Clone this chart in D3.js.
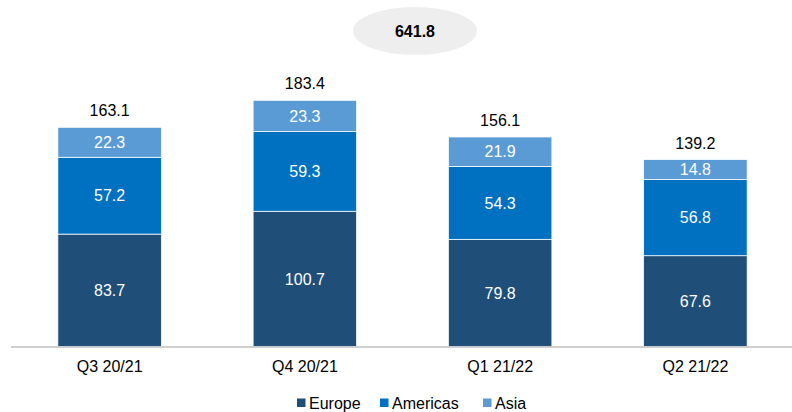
<!DOCTYPE html>
<html><head><meta charset="utf-8">
<script src="https://cdn.jsdelivr.net/npm/d3@7"></script>
<style>body{margin:0;background:#fff}svg{display:block;font-family:"Liberation Sans",Arial,sans-serif}</style>
</head><body>
<svg id="c" width="792" height="412"></svg>
<script>
const categories = ["Q3 20/21","Q4 20/21","Q1 21/22","Q2 21/22"];
const seriesNames = ["Europe","Americas","Asia"];
const europe = [83.7,100.7,79.8,67.6];
const americas = [57.2,59.3,54.3,56.8];
const asia = [22.3,23.3,21.9,14.8];
const totals = [163.1,183.4,156.1,139.2];
const grandTotal = "641.8";
const colors = ["#1F4E79","#0070C0","#5B9BD5"];

const svg = d3.select("#c");
const x = d3.scaleBand().domain(categories).range([11,794]).paddingInner(0.47).paddingOuter(0.24);
const y = d3.scaleLinear().domain([0,200]).range([346.5,77.9]);

const rows = categories.map((c,i)=>({cat:c,Europe:europe[i],Americas:americas[i],Asia:asia[i]}));
const stack = d3.stack().keys(seriesNames)(rows);

const g = svg.append("g");
stack.forEach((layer,li)=>{
  layer.forEach(d=>{
    g.append("rect").attr("x",x(d.data.cat)).attr("width",x.bandwidth())
      .attr("y",y(d[1])).attr("height",y(d[0])-y(d[1]))
      .attr("fill",colors[li]).attr("stroke","#fff").attr("stroke-width",0.75);
    g.append("text").attr("x",x(d.data.cat)+x.bandwidth()/2).attr("y",(y(d[0])+y(d[1]))/2)
      .attr("dy","0.36em").attr("text-anchor","middle").attr("fill","#fff").attr("font-size",16)
      .text(d.data[layer.key].toFixed(1));
  });
});
categories.forEach((c,i)=>{
  g.append("text").attr("x",x(c)+x.bandwidth()/2).attr("y",y(totals[i])-11)
   .attr("text-anchor","middle").attr("font-size",16).attr("fill","#000").text(totals[i].toFixed(1));
});

// axis
const ax = svg.append("g").attr("transform",`translate(0,${y(0)+0.5})`).call(d3.axisBottom(x).tickSize(0).tickPadding(14));
ax.select(".domain").attr("stroke","#bfbfbf").attr("stroke-width",1.5).attr("d","M11,0H792");
ax.selectAll("text").attr("font-size",16).attr("fill","#000").attr("font-family","Liberation Sans, Arial, sans-serif");

// grand total ellipse
svg.append("ellipse").attr("cx",415).attr("cy",31).attr("rx",62).attr("ry",24).attr("fill","#eeeeee");
svg.append("text").attr("x",415).attr("y",31).attr("dy","0.36em").attr("text-anchor","middle")
  .attr("font-size",16).attr("font-weight","bold").text(grandTotal);

// legend
const legX = [297,380,483];
const leg = svg.append("g");
seriesNames.forEach((n,i)=>{
  leg.append("rect").attr("x",legX[i]).attr("y",398.5).attr("width",8.5).attr("height",8.5).attr("fill",colors[i]);
  leg.append("text").attr("x",legX[i]+12).attr("y",409).attr("font-size",16).attr("fill","#000").text(n);
});
</script>
</body></html>
